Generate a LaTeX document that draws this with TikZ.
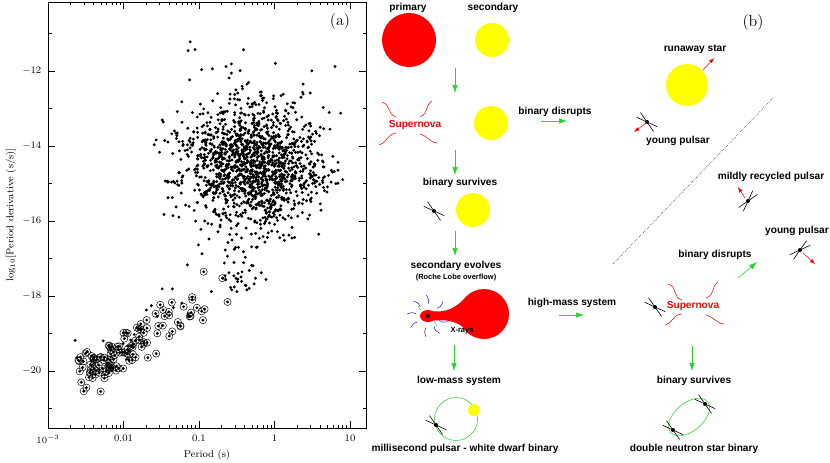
\documentclass[tikz,border=0pt]{standalone}
\usepackage{fontspec}
\setsansfont{Liberation Sans}
\usetikzlibrary{arrows.meta}
\definecolor{snred}{RGB}{255,0,0}
\definecolor{staryel}{RGB}{255,255,0}
\definecolor{evogreen}{RGB}{40,210,40}
\definecolor{xblue}{RGB}{30,30,230}
\tikzset{
  lbl/.style={font=\fontsize{7.6}{9}\selectfont\sffamily\bfseries},
  small/.style={font=\fontsize{5.6}{7}\selectfont\sffamily\bfseries},
  panel/.style={font=\fontsize{12}{14}\selectfont},
  tick/.style={font=\fontsize{7.5}{9}\selectfont},
  evo/.style={evogreen,-{Latex[length=6pt,width=4pt]}},
  kick/.style={snred,-{Latex[length=4pt,width=3pt]}},
  sn/.style={snred,thin},
  ray/.style={xblue,thin},
  pulsar/.pic={
    \draw[line width=0.45pt] (-11,-3) -- (11,3);
    \draw[line width=0.45pt] (-11,3) -- (11,-3);
    \fill (0,0) circle[radius=2];
  }
}
\newcommand{\px}[1]{48+(#1+3)*75.5}
\newcommand{\py}[1]{371-(#1+20)*37.5}
\begin{document}
\begin{tikzpicture}[x=0.75pt,y=-0.75pt]
\useasboundingbox (0,0) rectangle (830,463);
% ---- panel (a): P-Pdot diagram
\pgfmathsetseed{4711}
\begin{scope}
\clip (48,2) rectangle (366,428);
\foreach \i in {1,...,1450}{
  \pgfmathsetmacro\lp{-0.3+0.45*(rand+rand+rand)}
  \pgfmathsetmacro\ld{-14.5+0.8*(rand+rand+rand)}
  \fill ({\px{\lp}},{\py{\ld}}) circle[radius=1.6];
}
\foreach \i in {1,...,60}{
  \pgfmathsetmacro\lp{-0.4+1.3*rand}
  \pgfmathsetmacro\ld{-13.5+2.3*rand}
  \fill ({\px{\lp}},{\py{\ld}}) circle[radius=1.6];
}
\foreach \i in {1,...,40}{
  \pgfmathsetmacro\lp{-0.4+0.3*rand}
  \pgfmathsetmacro\ld{-17.2+0.7*rand}
  \fill ({\px{\lp}},{\py{\ld}}) circle[radius=1.6];
}
\foreach \i in {1,...,125}{
  \pgfmathsetmacro\t{rnd*rnd}
  \pgfmathsetmacro\lp{-2.5+2.0*\t+0.2*rand}
  \pgfmathsetmacro\ld{-20.1+2.6*\t+0.5*rand}
  \fill ({\px{\lp}},{\py{\ld}}) circle[radius=1.6];
  \draw[line width=0.35pt] ({\px{\lp}},{\py{\ld}}) circle[radius=3.6];
}
\foreach \i in {1,...,30}{
  \pgfmathsetmacro\t{rnd}
  \pgfmathsetmacro\lp{-2.5+2*\t+0.3*rand}
  \pgfmathsetmacro\ld{-19.8+2.8*\t+0.6*rand}
  \fill ({\px{\lp}},{\py{\ld}}) circle[radius=1.6];
}
\end{scope}
\draw[line width=0.5pt] (48,2) rectangle (366,428);
\foreach \e/\t in {-3/{$10^{-3}$},-2/0.01,-1/0.1,0/1,1/10}{
  \draw ({\px{\e}},428) -- ++(0,-7);
  \draw ({\px{\e}},2) -- ++(0,7);
  \node[tick,below] (xt\e) at ({\px{\e}},430) {\t};
  \ifnum\e<1
  \foreach \m in {2,...,9}{
    \draw ({\px{\e}+75.5*log10(\m)},428) -- ++(0,-3.5);
    \draw ({\px{\e}+75.5*log10(\m)},2) -- ++(0,3.5);
  }
  \fi
}
\foreach \v in {-11,...,-21}{
  \draw (48,{\py{\v}}) -- ++(3.5,0);
  \draw (366,{\py{\v}}) -- ++(-3.5,0);
}
\foreach \v in {-12,-14,-16,-18,-20}{
  \draw (48,{\py{\v}}) -- ++(7,0);
  \draw (366,{\py{\v}}) -- ++(-7,0);
  \node[tick,left] (yt\v) at (46,{\py{\v}}) {$-\mathrm{\the\numexpr-\v\relax}$};
}
\node[tick] (xlab) at (207,455) {Period (s)};
\node[tick,rotate=90] (ylab) at (11,215) {log$_{10}$[Period derivative (s/s)]};
\node[panel] (pa) at (340,22) {(a)};
% ---- panel (b): binary evolution
\node[panel] (pb) at (753,23) {(b)};
\node[lbl] (primary) at (408,8) {primary};
\node[lbl] (secondary) at (493,8) {secondary};
\fill[snred] (409,40) circle[radius=27];
\fill[staryel] (492,40) circle[radius=17];
\coordinate (a1s) at (455,68); \coordinate (a1e) at (455,93);
\draw[evo] (a1s) -- (a1e);
% first supernova
\node[lbl,text=snred] (sn1) at (415,125) {Supernova};
\draw[sn] (382,102) .. controls (392,106) and (386,113) .. (396,117);
\draw[sn] (432,101) .. controls (424,106) and (430,112) .. (420,117);
\draw[sn] (379,145) .. controls (388,142) and (386,135) .. (396,133);
\draw[sn] (420,134) .. controls (428,136) and (430,143) .. (438,143);
\fill[staryel] (491,123) circle[radius=17];
\node[lbl] (dis1) at (555,112) {binary disrupts};
\coordinate (a2s) at (541,121); \coordinate (a2e) at (567,121);
\draw[evo] (a2s) -- (a2e);
% disrupted system
\node[lbl] (runaway) at (695,49) {runaway star};
\fill[staryel] (687,85) circle[radius=21];
\coordinate (rk) at (703,70); \coordinate (rke) at (714,58);
\draw[kick] (rk) -- (rke);
\pic[rotate=-40] (yp1) at (647,122) {pulsar};
\coordinate (pk) at (646,123); \coordinate (pke) at (634,132);
\draw[kick] (pk) -- (pke);
\node[lbl] (young1) at (678,141) {young pulsar};
\coordinate (div1) at (773,98); \coordinate (div2) at (613,264);
\draw[densely dotted] (div1) -- (div2);
\node[lbl] (mildly) at (771,177) {mildly recycled pulsar};
\pic[rotate=50] (mrp) at (748,201) {pulsar};
\coordinate (mk) at (745,198); \coordinate (mke) at (738,187);
\draw[kick] (mk) -- (mke);
% survivors
\coordinate (a3s) at (455,150); \coordinate (a3e) at (455,175);
\draw[evo] (a3s) -- (a3e);
\node[lbl] (surv1) at (460,183) {binary survives};
\pic[rotate=-40] (psr1) at (434,211) {pulsar};
\fill[staryel] (473,210) circle[radius=17];
\coordinate (a4s) at (455,231); \coordinate (a4e) at (455,256);
\draw[evo] (a4s) -- (a4e);
\node[lbl] (evolve) at (456,266) {secondary evolves};
\node[small] (roche) at (456,278) {(Roche Lobe overflow)};
% Roche lobe overflow
\fill[snred] (484,314) circle[radius=25];
\fill[snred] (428,316) ellipse[x radius=8,y radius=6];
\fill[snred] (430,311) .. controls (445,313) and (455,309) .. (466,297)
  -- (468,331) .. controls (456,320) and (445,319) .. (430,321) -- cycle;
\fill (428,316) circle[radius=2];
\foreach \a in {20,60,100,150,190,230,270,320}{
  \draw[ray] (428,316) ++(\a:12) .. controls ++(\a+15:4) .. ++(\a-10:9);
}
\draw[densely dotted,thin] (421,310) -- (418,306);
\draw[densely dotted,thin] (434,322) -- (437,326);
\node[small] (xrays) at (462,331) {X-rays};
\node[lbl] (hms) at (572,303) {high-mass system};
\coordinate (a5s) at (559,315); \coordinate (a5e) at (584,315);
\draw[evo] (a5s) -- (a5e);
\coordinate (a6s) at (454,345); \coordinate (a6e) at (454,371);
\draw[evo] (a6s) -- (a6e);
\node[lbl] (lms) at (459,381) {low-mass system};
\draw[evogreen] (456,419) circle[radius=21.5];
\fill[staryel] (474,410) circle[radius=6];
\pic[rotate=-40] (msp) at (436,425) {pulsar};
\node[lbl] (mspwd) at (465,449) {millisecond pulsar - white dwarf binary};
% second supernova
\pic[rotate=-40] (psr2) at (655,307) {pulsar};
\node[lbl,text=snred] (sn2) at (693,306) {Supernova};
\draw[sn] (668,284) .. controls (678,287) and (672,297) .. (682,300);
\draw[sn] (718,282) .. controls (710,288) and (716,294) .. (706,298);
\draw[sn] (665,325) .. controls (674,322) and (672,315) .. (682,314);
\draw[sn] (706,315) .. controls (714,317) and (716,323) .. (724,324);
\node[lbl] (dis2) at (715,255) {binary disrupts};
\coordinate (a7s) at (738,278); \coordinate (a7e) at (757,262);
\draw[evo] (a7s) -- (a7e);
\node[lbl] (young2) at (797,231) {young pulsar};
\pic[rotate=40] (yp2) at (800,250) {pulsar};
\coordinate (yk) at (803,253); \coordinate (yke) at (815,264);
\draw[kick] (yk) -- (yke);
\coordinate (a8s) at (692,346); \coordinate (a8e) at (692,371);
\draw[evo] (a8s) -- (a8e);
\node[lbl] (surv2) at (694,381) {binary survives};
\draw[evogreen,rotate around={40:(689,417)}] (689,417) ellipse[x radius=24,y radius=14];
\pic[rotate=-40] (dns1) at (705,404) {pulsar};
\pic[rotate=-40] (dns2) at (673,430) {pulsar};
\node[lbl] (dnsb) at (694,449) {double neutron star binary};
\end{tikzpicture}
\end{document}
